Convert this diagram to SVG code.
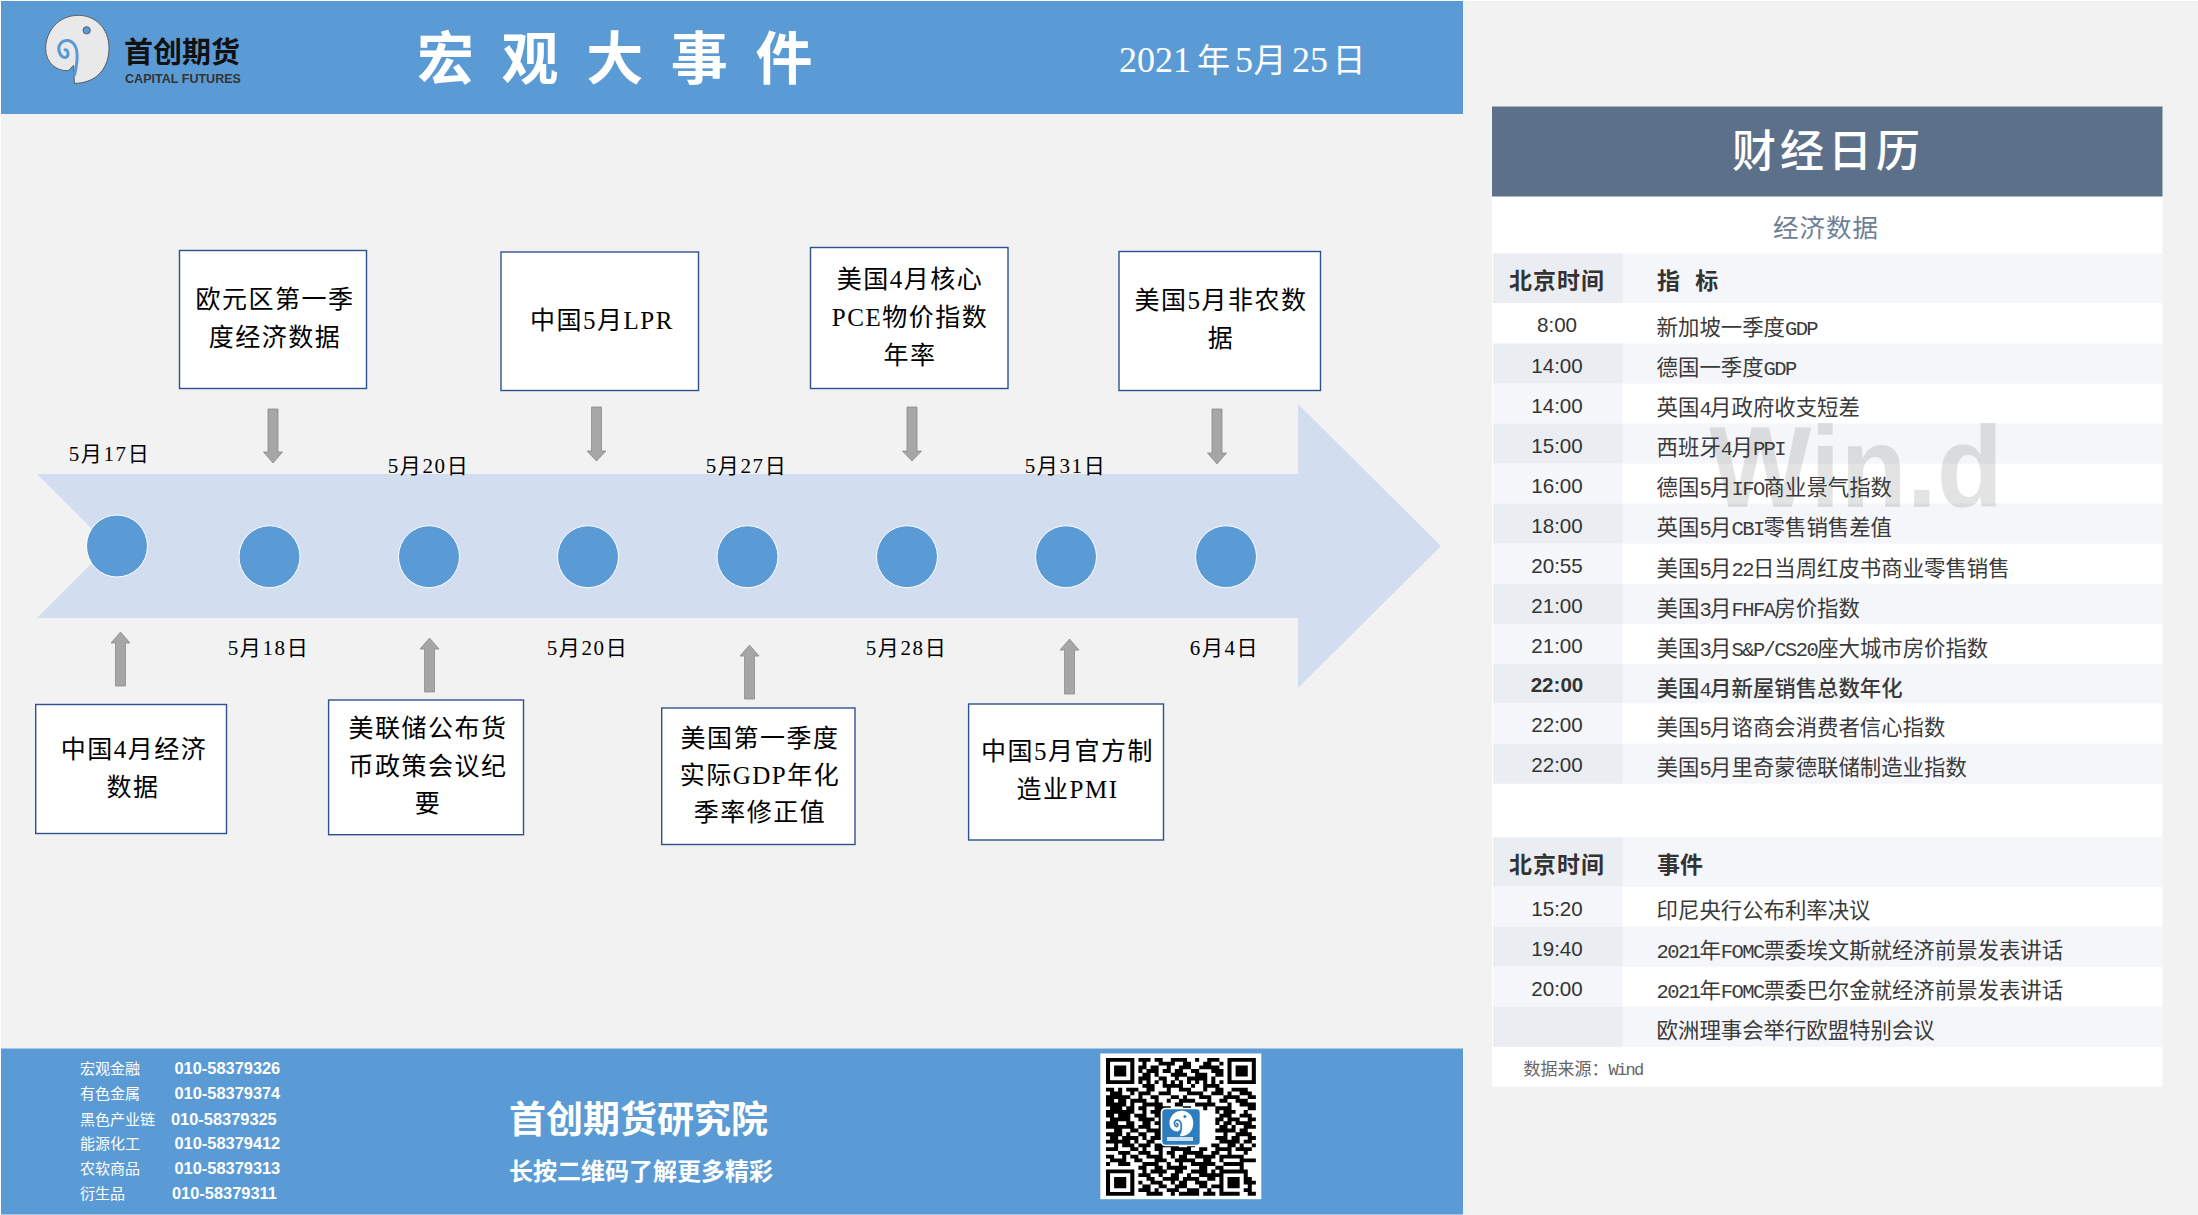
<svg xmlns="http://www.w3.org/2000/svg" width="2198" height="1215" viewBox="0 0 2198 1215">
<style>
text{font-family:"Liberation Sans","Noto Sans CJK SC",sans-serif}
.ser{font-family:"Liberation Serif","Noto Sans CJK SC",serif;fill:#000}
.box{fill:#fff;stroke:#2f528f;stroke-width:1.4}
.bt{font-size:25px;letter-spacing:1.5px;text-anchor:middle}
.dt{font-size:21px;letter-spacing:1.6px;text-anchor:middle}
.dot{fill:#5b9bd5;stroke:#fff;stroke-width:1}
.arr{fill:#a6a6a6;stroke:#8c8c8c;stroke-width:.8}
.tm{font-size:20.6px;fill:#333;text-anchor:middle;font-family:"Liberation Sans",sans-serif}
.ind{font-size:21.4px;fill:#3a3a3a;font-family:"Noto Sans CJK SC",sans-serif}
.m{font-family:"Liberation Mono",monospace;font-size:20.5px;letter-spacing:-1.6px}
.hd{font-size:23px;font-weight:700;fill:#333;font-family:"Noto Sans CJK SC",sans-serif}
.ft{font-size:15px;fill:#fff;font-family:"Noto Sans CJK SC",sans-serif}
.ph{font-size:16.4px;font-weight:700;fill:#fff}
.a{fill:#f5f6f9}.b{fill:#eaeef3}.c{fill:#f6f7fa}
</style>
<defs>
<path id="lgb" d="M118 226C185 226 222 180 222 120C222 60 180 22 130 22C70 22 32 70 32 122C32 165 65 190 100 188L116 172L118 226Z"/>
<path id="lgs" fill="none" stroke-linecap="round" d="M119 200C127 165 132 130 118 110C105 90 80 95 72 115C68 135 82 152 93 148C103 143 100 125 90 125"/>
</defs>
<rect width="2198" height="1215" fill="#fff"/>
<rect x="1" y="1" width="2197" height="1214" fill="#f2f2f2"/>
<g id="header">
<rect x="1" y="1" width="1462" height="113" fill="#5b9bd5"/>
<g id="logo" transform="translate(35,8) scale(.3333)">
<use href="#lgb" fill="#e9e9e9" stroke="#444" stroke-width="2.4"/>
<use href="#lgs" stroke="#5b9bd5" stroke-width="9"/>
<circle cx="155" cy="67" r="11" fill="#5b9bd5" stroke="#333" stroke-width="2"/>
</g>
<text x="124" y="63" font-size="29" font-weight="700" fill="#111" style="font-family:'Noto Sans CJK SC',sans-serif">首创期货</text>
<text x="125" y="83" font-size="12.5" font-weight="700" fill="#333" textLength="116" lengthAdjust="spacingAndGlyphs">CAPITAL FUTURES</text>
<text x="417" y="79" font-size="57" fill="#fff" letter-spacing="27.6" font-weight="700" style="font-family:'Noto Sans CJK SC',sans-serif">宏观大事件</text>
<text y="71.5" font-size="36" fill="#fff" style="font-family:'Liberation Serif','Noto Sans CJK SC',serif"><tspan x="1119">2021</tspan><tspan x="1197" font-size="33">年</tspan><tspan x="1235">5</tspan><tspan x="1253.5" font-size="33">月</tspan><tspan x="1292">25</tspan><tspan x="1332.5" font-size="33">日</tspan></text>
</g>
<g id="timeline">
<polygon points="37,474 1298,474 1298,404 1441,546 1298,688 1298,618 37,618 109,546" fill="#d2deef"/>
</g>
<g id="dots">
<ellipse class="dot" cx="117" cy="546" rx="30.5" ry="31"/>
<ellipse class="dot" cx="269.5" cy="556.7" rx="30.5" ry="31"/>
<ellipse class="dot" cx="429" cy="556.7" rx="30.5" ry="31"/>
<ellipse class="dot" cx="588" cy="556.7" rx="30.5" ry="31"/>
<ellipse class="dot" cx="747.5" cy="556.7" rx="30.5" ry="31"/>
<ellipse class="dot" cx="907" cy="556.7" rx="30.5" ry="31"/>
<ellipse class="dot" cx="1066" cy="556.7" rx="30.5" ry="31"/>
<ellipse class="dot" cx="1226" cy="556.7" rx="30.5" ry="31"/>
</g>
<g id="connectors">
<polygon class="arr" points="268,409 278,409 278,452 282.5,452 273,463 263.5,452 268,452"/>
<polygon class="arr" points="591.5,407 601.5,407 601.5,451 606,451 596.5,461 587,451 591.5,451"/>
<polygon class="arr" points="907,407 917,407 917,451 921.5,451 912,461 902.5,451 907,451"/>
<polygon class="arr" points="1212,409 1222,409 1222,453 1226.5,453 1217,464 1207.5,453 1212,453"/>
<polygon class="arr" points="115.5,686 125.5,686 125.5,643 130,643 120.5,632 111,643 115.5,643"/>
<polygon class="arr" points="424.5,692 434.5,692 434.5,649 439,649 429.5,638 420,649 424.5,649"/>
<polygon class="arr" points="744.5,699 754.5,699 754.5,656 759,656 749.5,645 740,656 744.5,656"/>
<polygon class="arr" points="1064.5,694 1074.5,694 1074.5,650 1079,650 1069.5,639 1060,650 1064.5,650"/>
</g>
<g id="dates" class="ser">
<text class="ser dt" x="109.5" y="460.5">5月17日</text>
<text class="ser dt" x="428.5" y="473">5月20日</text>
<text class="ser dt" x="746.5" y="473">5月27日</text>
<text class="ser dt" x="1065.5" y="473">5月31日</text>
<text class="ser dt" x="268.5" y="654.5">5月18日</text>
<text class="ser dt" x="587.5" y="654.5">5月20日</text>
<text class="ser dt" x="906.5" y="654.5">5月28日</text>
<text class="ser dt" x="1224.5" y="654.5">6月4日</text>
</g>
<g id="n1"><rect class="box" x="179.5" y="250.5" width="187" height="138"/><text class="ser bt" x="275" y="307.5">欧元区第一季</text><text class="ser bt" x="275" y="345.5">度经济数据</text></g>
<g id="n2"><rect class="box" x="501" y="252" width="197.5" height="138.5"/><text class="ser bt" x="602" y="329">中国5月LPR</text></g>
<g id="n3"><rect class="box" x="810.5" y="247.5" width="197.5" height="141"/><text class="ser bt" x="910" y="288">美国4月核心</text><text class="ser bt" x="910" y="326">PCE物价指数</text><text class="ser bt" x="910" y="364">年率</text></g>
<g id="n4"><rect class="box" x="1119" y="251.5" width="201.5" height="139"/><text class="ser bt" x="1221" y="309">美国5月非农数</text><text class="ser bt" x="1221" y="347">据</text></g>
<g id="n5"><rect class="box" x="35.7" y="704.5" width="190.8" height="129"/><text class="ser bt" x="134" y="757.5">中国4月经济</text><text class="ser bt" x="133" y="795.5">数据</text></g>
<g id="n6"><rect class="box" x="328.6" y="700" width="194.9" height="134.7"/><text class="ser bt" x="428" y="736.5">美联储公布货</text><text class="ser bt" x="428" y="774.5">币政策会议纪</text><text class="ser bt" x="428" y="812">要</text></g>
<g id="n7"><rect class="box" x="661.7" y="708" width="193.3" height="136.5"/><text class="ser bt" x="760" y="746.5">美国第一季度</text><text class="ser bt" x="760" y="784">实际GDP年化</text><text class="ser bt" x="760" y="821">季率修正值</text></g>
<g id="n8"><rect class="box" x="968.6" y="704" width="194.9" height="136"/><text class="ser bt" x="1067.5" y="760">中国5月官方制</text><text class="ser bt" x="1067.5" y="798">造业PMI</text></g>
<g id="footer">
<rect x="1" y="1048.5" width="1462" height="166" fill="#5b9bd5"/>
<text class="ft" x="80" y="1073.5">宏观金融</text><text class="ph" x="174.5" y="1073.5">010-58379326</text>
<text class="ft" x="80" y="1099">有色金属</text><text class="ph" x="174.5" y="1099">010-58379374</text>
<text class="ft" x="80" y="1124.5">黑色产业链</text><text class="ph" x="171" y="1124.5">010-58379325</text>
<text class="ft" x="80" y="1149">能源化工</text><text class="ph" x="174.5" y="1149">010-58379412</text>
<text class="ft" x="80" y="1174">农软商品</text><text class="ph" x="174.5" y="1174">010-58379313</text>
<text class="ft" x="80" y="1199">衍生品</text><text class="ph" x="172" y="1199">010-58379311</text>
<text x="509" y="1132.5" font-size="37" font-weight="700" fill="#fff" style="font-family:'Noto Sans CJK SC',sans-serif">首创期货研究院</text>
<text x="509" y="1179.5" font-size="24" font-weight="700" fill="#fff" style="font-family:'Noto Sans CJK SC',sans-serif">长按二维码了解更多精彩</text>
</g>
<g id="qr">
<rect x="1100.3" y="1053.5" width="161" height="145.7" fill="#fff"/>
<g transform="translate(1106,1058) scale(4.05,3.72)">
<path fill="#000" fill-rule="evenodd" d="M0 0h7v7h-7zM1 1v5h5v-5zM2 2h3v3h-3zM30 0h7v7h-7zM31 1v5h5v-5zM32 2h3v3h-3zM0 30h7v7h-7zM1 31v5h5v-5zM2 32h3v3h-3z"/>
<path stroke="#000" stroke-width="1.03" fill="none" d="M8 .5h3M12 .5h2M16 .5h4M22 .5h1M25 .5h3
M9 1.5h1M13 1.5h4M19 1.5h2M24 1.5h2M28 1.5h1
M8 2.5h2M11 2.5h2M15 2.5h1M18 2.5h3M23 2.5h5
M8 3.5h1M10 3.5h3M14 3.5h2M17 3.5h2M21 3.5h2M26 3.5h3
M9 4.5h2M12 4.5h1M16 4.5h4M22 4.5h3M27 4.5h2
M8 5.5h3M13 5.5h2M17 5.5h1M20 5.5h5M26 5.5h1
M8 6.5h1M10 6.5h1M12 6.5h1M14 6.5h1M16 6.5h1M18 6.5h1M20 6.5h1M22 6.5h1M24 6.5h1M26 6.5h1M28 6.5h1
M9 7.5h3M14 7.5h5M21 7.5h1M24 7.5h4
M0 8.5h2M3 8.5h1M5 8.5h3M10 8.5h2M15 8.5h1M18 8.5h3M24 8.5h1M27 8.5h2M31 8.5h4
M1 9.5h3M6 9.5h1M8 9.5h3M13 9.5h3M20 9.5h4M26 9.5h3M30 9.5h1M33 9.5h3
M0 10.5h6M8 10.5h1M11 10.5h2M16 10.5h2M19 10.5h1M23 10.5h3M29 10.5h4M35 10.5h2
M0 11.5h2M3 11.5h2M6 11.5h4M12 11.5h1M15 11.5h1M18 11.5h4M25 11.5h1M28 11.5h2M32 11.5h3
M0 12.5h5M6 12.5h1M9 12.5h5M17 12.5h2M22 12.5h5M30 12.5h1M33 12.5h4
M1 13.5h3M5 13.5h2M8 13.5h2M12 13.5h4M19 13.5h2M24 13.5h1M27 13.5h4M35 13.5h2
M0 14.5h7M9 14.5h1M11 14.5h3M27 14.5h1M29 14.5h3M34 14.5h1
M0 15.5h2M3 15.5h3M7 15.5h3M12 15.5h2M28 15.5h3M33 15.5h3
M1 16.5h5M8 16.5h4M13 16.5h1M27 16.5h2M30 16.5h3M35 16.5h2
M0 17.5h3M5 17.5h2M9 17.5h2M12 17.5h2M27 17.5h1M29 17.5h2M32 17.5h4
M0 18.5h7M8 18.5h3M13 18.5h1M28 18.5h2M31 18.5h1M34 18.5h3
M2 19.5h2M6 19.5h2M10 19.5h4M27 19.5h5M33 19.5h2
M0 20.5h4M5 20.5h1M8 20.5h2M12 20.5h2M29 20.5h1M32 20.5h4
M1 21.5h2M4 21.5h4M9 21.5h1M11 21.5h3M27 21.5h3M31 21.5h2M35 21.5h2
M0 22.5h6M7 22.5h1M10 22.5h2M28 22.5h5M34 22.5h2
M2 23.5h1M4 23.5h3M8 23.5h3M12 23.5h6M20 23.5h2M26 23.5h2M30 23.5h2M33 23.5h1M36 23.5h1
M0 24.5h3M6 24.5h2M9 24.5h1M12 24.5h2M16 24.5h5M23 24.5h2M27 24.5h4M32 24.5h4
M3 25.5h3M8 25.5h3M13 25.5h1M15 25.5h2M19 25.5h5M26 25.5h2M30 25.5h1M34 25.5h1
M0 26.5h2M4 26.5h1M6 26.5h2M10 26.5h4M16 26.5h1M18 26.5h2M22 26.5h5M28 26.5h6
M1 27.5h4M7 27.5h2M12 27.5h3M17 27.5h5M24 27.5h2M28 27.5h1M33 27.5h4
M0 28.5h1M3 28.5h3M9 28.5h4M15 28.5h1M18 28.5h1M21 28.5h6M29 28.5h5
M8 29.5h2M12 29.5h2M15 29.5h5M23 29.5h2M27 29.5h2M33 29.5h1
M9 30.5h1M11 30.5h4M17 30.5h2M21 30.5h4M26 30.5h1M28 30.5h7
M8 31.5h3M13 31.5h1M16 31.5h2M20 31.5h1M23 31.5h5M28 31.5h1M34 31.5h1
M10 32.5h2M14 32.5h4M19 32.5h4M25 32.5h2M28 32.5h1M30 32.5h3M34 32.5h2
M8 33.5h1M11 33.5h3M16 33.5h1M18 33.5h2M22 33.5h3M28 33.5h1M30 33.5h3M34 33.5h3
M9 34.5h2M13 34.5h2M17 34.5h3M23 34.5h2M26 34.5h3M30 34.5h3M35 34.5h1
M8 35.5h3M12 35.5h1M15 35.5h3M20 35.5h3M25 35.5h1M28 35.5h1M34 35.5h2
M10 36.5h4M16 36.5h1M18 36.5h5M24 36.5h3M28 36.5h5M35 36.5h2"/>
</g>
<rect x="1161.5" y="1108.5" width="39" height="37" rx="4" fill="#2e7dbf" stroke="#fff" stroke-width="1.6"/>
<g transform="translate(1165.5,1108) scale(.125,.125)">
<use href="#lgb" fill="#fff"/>
<use href="#lgs" stroke="#2e7dbf" stroke-width="14"/>
<circle cx="155" cy="67" r="12" fill="#2e7dbf"/>
</g>
<rect x="1167" y="1137" width="26" height="4" fill="#cfe0f0"/>
</g>
<g id="calendar">
<rect x="1492" y="106.5" width="670.5" height="980" fill="#fff"/>
<rect x="1492" y="106.5" width="670.5" height="90" fill="#5d7089"/>
<text x="1828" y="167" font-size="44" letter-spacing="4" font-weight="500" fill="#fff" text-anchor="middle" style="font-family:'Noto Sans CJK SC',sans-serif">财经日历</text>
<text x="1826" y="237" font-size="25.5" letter-spacing="1" fill="#6d7f96" text-anchor="middle" style="font-family:'Noto Sans CJK SC',sans-serif">经济数据</text>
<g id="bands">
<rect class="a" x="1493" y="253.6" width="669.5" height="49.4"/><rect class="b" x="1493" y="253.6" width="129.7" height="49.4"/>
<rect class="a" x="1493" y="343.6" width="669.5" height="40"/><rect class="b" x="1493" y="343.6" width="129.7" height="40"/>
<rect class="c" x="1493" y="383.6" width="129.7" height="40"/>
<rect class="a" x="1493" y="423.6" width="669.5" height="40"/><rect class="b" x="1493" y="423.6" width="129.7" height="40"/>
<rect class="c" x="1493" y="463.6" width="129.7" height="40"/>
<rect class="a" x="1493" y="503.6" width="669.5" height="40"/><rect class="b" x="1493" y="503.6" width="129.7" height="40"/>
<rect class="c" x="1493" y="543.6" width="129.7" height="40.4"/>
<rect class="a" x="1493" y="584" width="669.5" height="40"/><rect class="b" x="1493" y="584" width="129.7" height="40"/>
<rect class="c" x="1493" y="624" width="129.7" height="40"/>
<rect class="a" x="1493" y="664" width="669.5" height="39.3"/><rect class="b" x="1493" y="664" width="129.7" height="39.3"/>
<rect class="c" x="1493" y="703.3" width="129.7" height="40.4"/>
<rect class="a" x="1493" y="743.7" width="669.5" height="40"/><rect class="b" x="1493" y="743.7" width="129.7" height="40"/>
<rect class="a" x="1493" y="837.3" width="669.5" height="49.4"/><rect class="b" x="1493" y="837.3" width="129.7" height="49.4"/>
<rect class="c" x="1493" y="886.7" width="129.7" height="40"/>
<rect class="a" x="1493" y="926.7" width="669.5" height="40"/><rect class="b" x="1493" y="926.7" width="129.7" height="40"/>
<rect class="c" x="1493" y="966.7" width="129.7" height="40"/>
<rect class="a" x="1493" y="1006.7" width="669.5" height="40"/><rect class="b" x="1493" y="1006.7" width="129.7" height="40"/>
</g>
<text x="1709" y="507" font-size="115" font-weight="700" fill="#000" fill-opacity=".11" textLength="294" lengthAdjust="spacingAndGlyphs">Win.d</text>
<text class="hd" x="1557" y="289" text-anchor="middle" letter-spacing="1">北京时间</text>
<text class="hd" x="1657" y="289" word-spacing="10">指 标</text>
<text class="tm" x="1557" y="332">8:00</text><text class="ind" x="1656.6" y="334.5">新加坡一季度<tspan class="m">GDP</tspan></text>
<text class="tm" x="1557" y="372.5">14:00</text><text class="ind" x="1656.6" y="375">德国一季度<tspan class="m">GDP</tspan></text>
<text class="tm" x="1557" y="412.5">14:00</text><text class="ind" x="1656.6" y="415">英国<tspan class="m">4</tspan>月政府收支短差</text>
<text class="tm" x="1557" y="452.5">15:00</text><text class="ind" x="1656.6" y="455">西班牙<tspan class="m">4</tspan>月<tspan class="m">PPI</tspan></text>
<text class="tm" x="1557" y="492.5">16:00</text><text class="ind" x="1656.6" y="495">德国<tspan class="m">5</tspan>月<tspan class="m">IFO</tspan>商业景气指数</text>
<text class="tm" x="1557" y="532.5">18:00</text><text class="ind" x="1656.6" y="535">英国<tspan class="m">5</tspan>月<tspan class="m">CBI</tspan>零售销售差值</text>
<text class="tm" x="1557" y="573">20:55</text><text class="ind" x="1656.6" y="575.5">美国<tspan class="m">5</tspan>月<tspan class="m">22</tspan>日当周红皮书商业零售销售</text>
<text class="tm" x="1557" y="613">21:00</text><text class="ind" x="1656.6" y="615.5">美国<tspan class="m">3</tspan>月<tspan class="m">FHFA</tspan>房价指数</text>
<text class="tm" x="1557" y="653">21:00</text><text class="ind" x="1656.6" y="655.5">美国<tspan class="m">3</tspan>月<tspan class="m">S&amp;P/CS20</tspan>座大城市房价指数</text>
<text class="tm" x="1557" y="692" font-weight="700">22:00</text><text class="ind" x="1656.6" y="695.5" font-weight="500">美国<tspan class="m">4</tspan>月新屋销售总数年化</text>
<text class="tm" x="1557" y="732.2">22:00</text><text class="ind" x="1656.6" y="735">美国<tspan class="m">5</tspan>月谘商会消费者信心指数</text>
<text class="tm" x="1557" y="772.2">22:00</text><text class="ind" x="1656.6" y="775">美国<tspan class="m">5</tspan>月里奇蒙德联储制造业指数</text>
<text class="hd" x="1557" y="872.5" text-anchor="middle" letter-spacing="1">北京时间</text>
<text class="hd" x="1657" y="872.5">事件</text>
<text class="tm" x="1557" y="915.5">15:20</text><text class="ind" x="1656.6" y="918.2">印尼央行公布利率决议</text>
<text class="tm" x="1557" y="955.5">19:40</text><text class="ind" x="1656.6" y="958.2"><tspan class="m">2021</tspan>年<tspan class="m">FOMC</tspan>票委埃文斯就经济前景发表讲话</text>
<text class="tm" x="1557" y="995.5">20:00</text><text class="ind" x="1656.6" y="998.2"><tspan class="m">2021</tspan>年<tspan class="m">FOMC</tspan>票委巴尔金就经济前景发表讲话</text>
<text class="ind" x="1656.6" y="1038.2">欧洲理事会举行欧盟特别会议</text>
<text x="1523.5" y="1074.5" font-size="17" fill="#666" style="font-family:'Noto Sans CJK SC',sans-serif">数据来源：<tspan font-size="17" letter-spacing="-1.7" style="font-family:'Liberation Mono',monospace">Wind</tspan></text>
</g>
</svg>
